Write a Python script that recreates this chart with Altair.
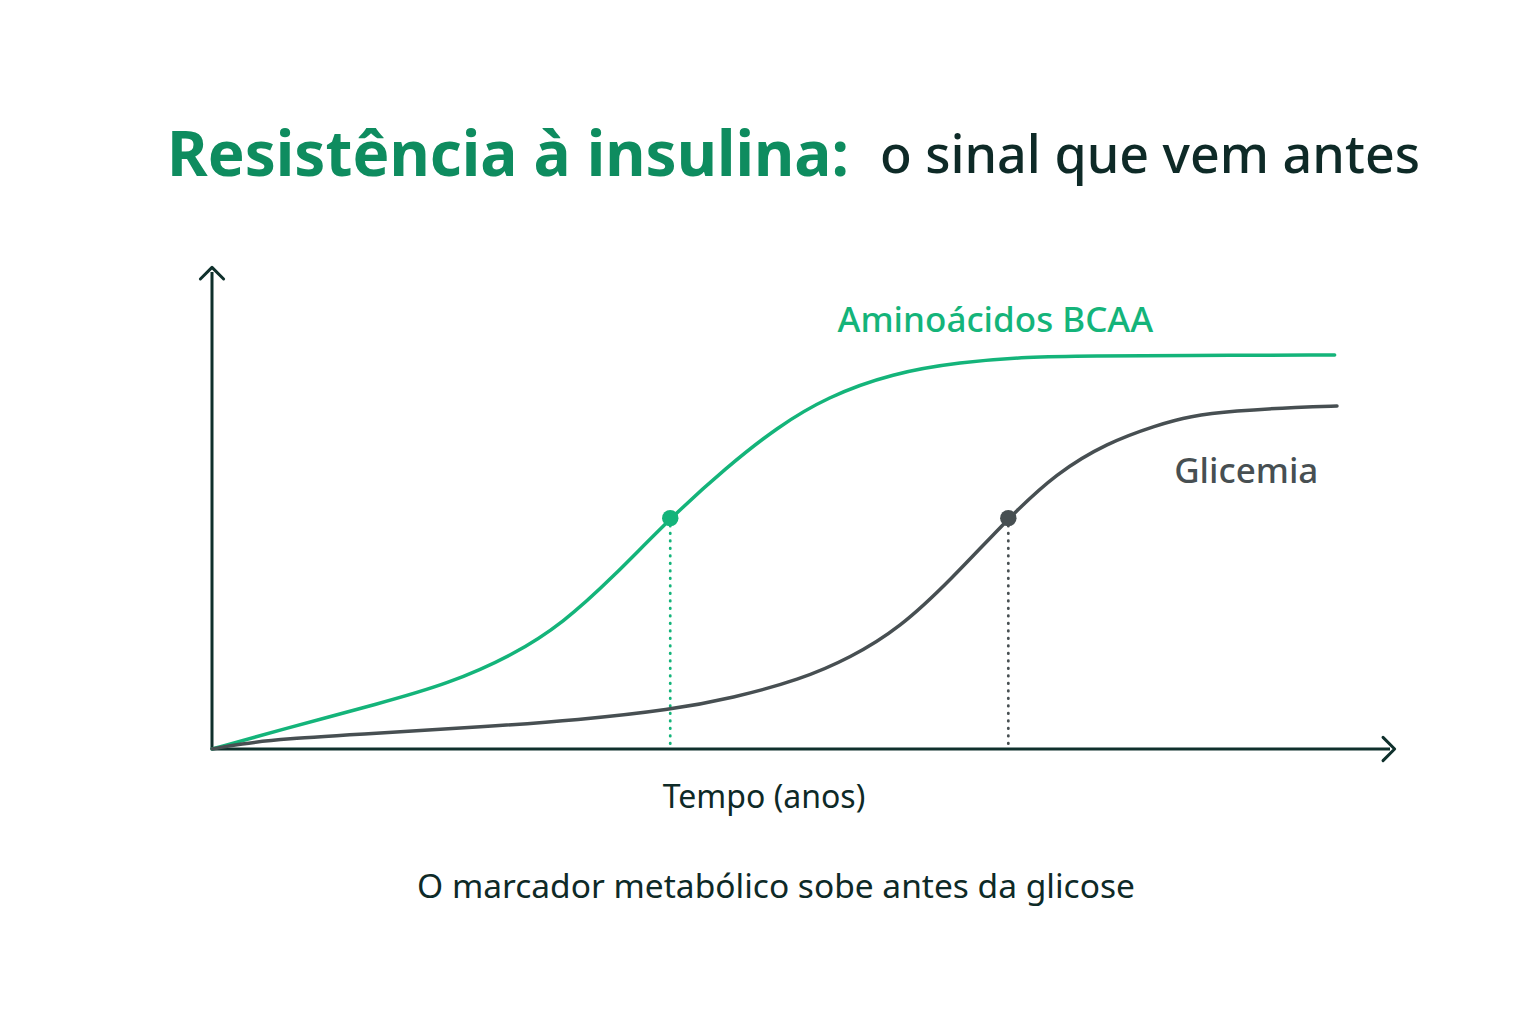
import altair as alt
import pandas as pd

# curve readings (x = tempo 0..100, y = nível 0..100)
bcaa_x = [0, 5.8, 14.3, 20.0, 25.6, 29.8, 34.0, 38.9, 43.7, 48.0, 52.2, 57.8, 63.5, 69.2, 74.8, 82.2, 95.3]
bcaa_y = [0, 4.0, 9.6, 13.6, 19.7, 26.4, 35.9, 48.4, 59.1, 67.5, 73.8, 78.8, 81.1, 82.2, 82.4, 82.5, 82.6]

glic_x = [0, 2.4, 5.8, 14.3, 22.8, 31.2, 38.9, 44.2, 49.9, 54.2, 58.4, 62.7, 67.6, 71.7, 76.0, 80.2, 83.0, 86.7, 92.4, 95.5]
glic_y = [0, 1.05, 2.1, 3.35, 4.6, 6.1, 8.2, 10.7, 14.5, 19.1, 25.4, 35.4, 48.4, 57.9, 64.2, 67.9, 69.8, 70.9, 71.7, 71.9]

# marked points where each curve crosses the threshold
mark_series = ["bcaa", "glic"]
mark_x = [38.9, 67.6]
mark_y = [48.4, 48.4]

label_text = ["Aminoácidos BCAA", "Glicemia"]
label_x = [66.5, 87.8]
label_y = [87.4, 55.8]

title_main = "Resistência à insulina:"
title_rest = "o sinal que vem antes"
x_title = "Tempo (anos)"
caption = "O marcador metabólico sobe antes da glicose"

GREEN = "#14b47a"
GREEN_TXT = "#0f9e6a"
TITLE_GREEN = "#0e8c5f"
GRAY = "#474f52"
AXIS = "#0f302c"
DARK = "#0e2a27"
FONT = "Noto Sans"

curves = pd.concat([
    pd.DataFrame({"t": bcaa_x, "v": bcaa_y, "serie": "bcaa"}),
    pd.DataFrame({"t": glic_x, "v": glic_y, "serie": "glic"}),
])
marks = pd.DataFrame({"t": mark_x, "v": mark_y, "base": 0, "serie": mark_series})
labels = pd.DataFrame({"t": label_x, "v": label_y, "txt": label_text, "serie": mark_series})
axes_df = pd.DataFrame({"t": [0, 0], "v": [0, 0], "t2": [0, 100], "v2": [100, 0], "ang": [0, 90]})

xs = alt.Scale(domain=[0, 100], range=[204, 1382])
ys = alt.Scale(domain=[0, 100], range=[741, 264])
col = alt.Color("serie:N", scale=alt.Scale(domain=["bcaa", "glic"], range=[GREEN, GRAY]), legend=None)

X = alt.X("t:Q", scale=xs, axis=None)
Y = alt.Y("v:Q", scale=ys, axis=None)

axis_lines = alt.Chart(axes_df).mark_rule(color=AXIS, strokeWidth=3).encode(
    x=X, y=Y, x2="t2:Q", y2="v2:Q"
)
arrow_heads = alt.Chart(axes_df).mark_point(
    shape="M-1,0.6L0,-0.4L1,0.6", filled=False, color=AXIS, strokeWidth=3,
    size=540, opacity=1, strokeCap="round", strokeJoin="round"
).encode(
    x=alt.X("t2:Q", scale=xs, axis=None),
    y=alt.Y("v2:Q", scale=ys, axis=None),
    angle=alt.Angle("ang:Q", scale=None),
)

drops = alt.Chart(marks).mark_rule(strokeWidth=2.8, strokeDash=[0.5, 7], strokeCap="round").encode(
    x=X, y=Y, y2="base:Q", color=col
)
lines = alt.Chart(curves).mark_line(strokeWidth=3.5, interpolate="basis", strokeCap="round").encode(
    x=X, y=Y, color=col, detail="serie:N"
)
dots = alt.Chart(marks).mark_circle(size=270, opacity=1).encode(x=X, y=Y, color=col)

series_labels = alt.Chart(labels).mark_text(font=FONT, fontSize=35, fontWeight=500).encode(
    x=X, y=Y, text="txt:N",
    color=alt.Color("serie:N", scale=alt.Scale(domain=["bcaa", "glic"], range=[GREEN_TXT, "#3d4547"]), legend=None),
)

base = alt.Chart(pd.DataFrame({"a": [0]}))
t1 = base.mark_text(font=FONT, fontSize=62, fontWeight="bold", color=TITLE_GREEN, align="left").encode(
    x=alt.value(159), y=alt.value(168), text=alt.value(title_main)
)
t2 = base.mark_text(font=FONT, fontSize=52, fontWeight=500, color=DARK, align="right").encode(
    x=alt.value(1412), y=alt.value(165), text=alt.value(title_rest)
)
t3 = base.mark_text(font=FONT, fontSize=32, color=DARK).encode(
    x=alt.value(756), y=alt.value(800), text=alt.value(x_title)
)
t4 = base.mark_text(font=FONT, fontSize=33.5, color=DARK).encode(
    x=alt.value(768), y=alt.value(890), text=alt.value(caption)
)

chart = alt.layer(
    axis_lines, arrow_heads, drops, lines, dots, series_labels, t1, t2, t3, t4
).properties(
    width=1516, height=1000, padding=0, autosize="none", background="#ffffff"
).configure_view(stroke=None).configure_text(baseline="alphabetic")

chart.save("out.html", embed_options={"renderer": "svg", "actions": False})
